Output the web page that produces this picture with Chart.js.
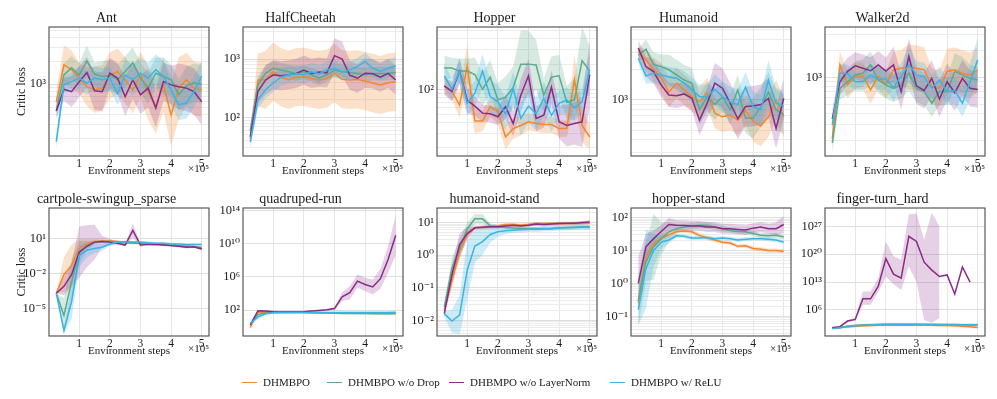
<!DOCTYPE html>
<html>
<head>
<meta charset="utf-8">
<script src="https://cdn.jsdelivr.net/npm/chart.js@4.4.1/dist/chart.umd.min.js"></script>
<style>
  body { margin: 0; background: #fff; width: 997px; height: 399px; position: relative; overflow: hidden; font-family: "Liberation Serif", "DejaVu Serif", serif; }
  canvas { position: absolute; }
  .leg { position: absolute; top: 374px; height: 16px; line-height: 16px; font-size: 11px; color: #1a1a1a; white-space: nowrap; }
  .leg i { display: inline-block; width: 15px; height: 1.5px; vertical-align: middle; margin-right: 6px; position: relative; top: -1px; }
</style>
</head>
<body>
<script>
// x positions, in units of 1e5 environment steps
const steps = [0.25, 0.5, 0.75, 1, 1.25, 1.5, 1.75, 2, 2.25, 2.5, 2.75, 3, 3.25, 3.5, 3.75, 4, 4.25, 4.5, 4.75, 5];
const xTicks = [1, 2, 3, 4, 5];
const seriesNames = ['DHMBPO', 'DHMBPO w/o Drop', 'DHBMPO w/o LayerNorm', 'DHMBPO w/ ReLU'];

// series order in every *Mean / *Spread: DHMBPO, w/o Drop, w/o LayerNorm, w/ ReLU
// spread = half width of the shaded band, in decades

// ---- Ant ----
const antMean = [
  [590, 1790, 1540, 1200, 930, 850, 890, 1300, 1460, 1130, 840, 1320, 780, 510, 980, 400, 890, 1140, 880, 850],
  [450, 1320, 1630, 1320, 2000, 1350, 1260, 1300, 1140, 1460, 1900, 1200, 890, 1390, 1260, 1140, 730, 950, 1050, 1000],
  [450, 860, 800, 1080, 1420, 820, 800, 1390, 1200, 690, 1140, 730, 890, 490, 1080, 980, 930, 890, 800, 590],
  [180, 980, 1080, 1200, 1030, 1200, 1140, 1200, 760, 1320, 1140, 1390, 1200, 1540, 1260, 840, 540, 570, 800, 1280],
];
const antSpread = [
  [0.15, 0.25, 0.25, 0.2, 0.25, 0.3, 0.3, 0.3, 0.3, 0.3, 0.3, 0.3, 0.35, 0.35, 0.35, 0.4, 0.4, 0.35, 0.35, 0.35],
  [0.1, 0.15, 0.15, 0.15, 0.2, 0.15, 0.2, 0.2, 0.2, 0.2, 0.2, 0.2, 0.2, 0.2, 0.25, 0.2, 0.2, 0.25, 0.25, 0.25],
  [0.1, 0.15, 0.2, 0.2, 0.2, 0.25, 0.25, 0.2, 0.2, 0.25, 0.25, 0.25, 0.25, 0.25, 0.25, 0.25, 0.3, 0.3, 0.3, 0.3],
  [0.1, 0.1, 0.12, 0.15, 0.15, 0.15, 0.15, 0.15, 0.15, 0.2, 0.2, 0.2, 0.2, 0.2, 0.2, 0.2, 0.2, 0.2, 0.2, 0.2],
];
const antRange = [117, 5530];
const antMajor = [1e3];
const antMinor = [200, 300, 400, 500, 600, 700, 800, 900, 2000, 3000, 4000, 5000];

// ---- HalfCheetah ----
const hcMean = [
  [43, 440, 440, 610, 490, 440, 490, 500, 465, 440, 465, 575, 450, 440, 450, 420, 390, 360, 395, 410],
  [60, 360, 570, 700, 650, 610, 560, 610, 540, 470, 540, 650, 610, 590, 570, 540, 570, 560, 570, 590],
  [47, 280, 440, 540, 520, 540, 570, 650, 570, 600, 580, 1150, 1000, 530, 470, 575, 560, 490, 570, 440],
  [38, 200, 300, 390, 490, 540, 560, 540, 610, 560, 650, 700, 610, 650, 750, 910, 700, 610, 700, 770],
];
const hcSpread = [
  [0.15, 0.45, 0.5, 0.5, 0.5, 0.5, 0.5, 0.5, 0.5, 0.5, 0.5, 0.5, 0.5, 0.5, 0.5, 0.5, 0.5, 0.5, 0.5, 0.5],
  [0.1, 0.15, 0.15, 0.12, 0.12, 0.12, 0.12, 0.12, 0.12, 0.12, 0.12, 0.12, 0.12, 0.12, 0.12, 0.12, 0.12, 0.12, 0.12, 0.12],
  [0.1, 0.2, 0.25, 0.25, 0.25, 0.25, 0.25, 0.25, 0.25, 0.25, 0.25, 0.3, 0.3, 0.25, 0.25, 0.25, 0.25, 0.25, 0.25, 0.25],
  [0.1, 0.15, 0.15, 0.15, 0.15, 0.15, 0.15, 0.15, 0.15, 0.15, 0.15, 0.15, 0.15, 0.15, 0.15, 0.15, 0.15, 0.15, 0.15, 0.15],
];
const hcRange = [21.8, 3565];
const hcMajor = [1e2, 1e3];
const hcMinor = [30, 40, 50, 60, 70, 80, 90, 200, 300, 400, 500, 600, 700, 800, 900, 2000, 3000];

// ---- Hopper ----
const hopMean = [
  [110, 95, 65, 190, 42, 42, 62, 55, 27, 34, 37, 41, 39, 38, 38, 34, 34, 130, 37, 27],
  [180, 180, 165, 165, 150, 100, 140, 75, 80, 105, 200, 200, 195, 85, 140, 145, 70, 75, 220, 165],
  [110, 94, 165, 74, 63, 52, 51, 47, 62, 39, 85, 145, 45, 49, 106, 41, 37, 39, 41, 150],
  [145, 100, 165, 68, 90, 165, 82, 71, 51, 103, 45, 63, 51, 78, 49, 68, 75, 60, 71, 170],
];
const hopSpread = [
  [0.1, 0.1, 0.15, 0.25, 0.15, 0.12, 0.12, 0.15, 0.15, 0.12, 0.12, 0.1, 0.1, 0.1, 0.1, 0.1, 0.1, 0.3, 0.2, 0.15],
  [0.15, 0.12, 0.15, 0.15, 0.2, 0.2, 0.2, 0.2, 0.25, 0.25, 0.4, 0.4, 0.3, 0.2, 0.25, 0.25, 0.2, 0.25, 0.4, 0.3],
  [0.1, 0.12, 0.15, 0.15, 0.12, 0.1, 0.1, 0.1, 0.15, 0.15, 0.2, 0.2, 0.15, 0.15, 0.2, 0.2, 0.25, 0.25, 0.3, 0.4],
  [0.15, 0.12, 0.15, 0.15, 0.15, 0.2, 0.2, 0.2, 0.2, 0.2, 0.2, 0.2, 0.2, 0.2, 0.2, 0.15, 0.15, 0.15, 0.15, 0.2],
];
const hopRange = [16, 555];
const hopMajor = [1e2];
const hopMinor = [20, 30, 40, 50, 60, 70, 80, 90, 200, 300, 400, 500];

// ---- Humanoid ----
const humMean = [
  [3040, 2500, 2000, 1650, 1200, 1470, 1260, 1080, 960, 1180, 740, 680, 710, 630, 790, 610, 550, 680, 1000, 680],
  [2800, 3200, 2250, 2150, 2000, 1780, 1580, 1470, 800, 1080, 900, 1080, 800, 1260, 660, 660, 850, 1200, 800, 720],
  [3300, 2150, 1920, 1410, 1120, 1100, 1150, 1040, 630, 930, 1470, 1310, 930, 650, 860, 870, 900, 1040, 520, 1040],
  [2600, 1740, 1850, 1780, 1690, 1650, 1470, 1260, 1080, 1080, 1280, 1080, 960, 900, 1340, 860, 800, 1580, 930, 870],
];
const humSpread = [
  [0.05, 0.1, 0.12, 0.15, 0.15, 0.15, 0.15, 0.15, 0.15, 0.15, 0.15, 0.15, 0.15, 0.15, 0.15, 0.2, 0.2, 0.2, 0.2, 0.2],
  [0.05, 0.1, 0.12, 0.12, 0.15, 0.15, 0.15, 0.15, 0.15, 0.15, 0.15, 0.15, 0.15, 0.15, 0.15, 0.2, 0.2, 0.2, 0.2, 0.2],
  [0.08, 0.1, 0.12, 0.12, 0.12, 0.12, 0.12, 0.12, 0.15, 0.15, 0.2, 0.2, 0.2, 0.2, 0.2, 0.2, 0.2, 0.2, 0.2, 0.2],
  [0.05, 0.08, 0.1, 0.1, 0.1, 0.1, 0.12, 0.12, 0.12, 0.12, 0.15, 0.15, 0.15, 0.15, 0.15, 0.15, 0.15, 0.2, 0.15, 0.15],
];
const humRange = [277, 5330];
const humMajor = [1e3];
const humMinor = [300, 400, 500, 600, 700, 800, 900, 2000, 3000, 4000, 5000];

// ---- Walker2d ----
const walkMean = [
  [210, 1380, 830, 1040, 1040, 730, 1040, 830, 1220, 1270, 1310, 1270, 1220, 800, 760, 1170, 1220, 1120, 1070, 1220],
  [190, 760, 900, 1070, 1120, 1380, 940, 830, 760, 830, 1120, 760, 700, 520, 700, 700, 1170, 1070, 980, 940],
  [350, 900, 1170, 1350, 1270, 1190, 1380, 1180, 1380, 700, 1710, 810, 720, 980, 580, 900, 680, 980, 760, 740],
  [300, 1120, 1100, 900, 900, 1070, 960, 960, 780, 1030, 1380, 1070, 1030, 760, 940, 700, 720, 520, 900, 1570],
];
const walkSpread = [
  [0.1, 0.15, 0.15, 0.15, 0.15, 0.15, 0.15, 0.15, 0.2, 0.2, 0.25, 0.25, 0.25, 0.2, 0.2, 0.25, 0.25, 0.25, 0.25, 0.25],
  [0.12, 0.12, 0.15, 0.15, 0.15, 0.15, 0.15, 0.15, 0.15, 0.15, 0.2, 0.15, 0.15, 0.15, 0.15, 0.15, 0.2, 0.2, 0.15, 0.15],
  [0.1, 0.15, 0.15, 0.15, 0.15, 0.15, 0.15, 0.15, 0.2, 0.2, 0.2, 0.2, 0.2, 0.2, 0.2, 0.2, 0.2, 0.2, 0.2, 0.2],
  [0.08, 0.1, 0.1, 0.1, 0.1, 0.12, 0.12, 0.12, 0.15, 0.15, 0.2, 0.15, 0.15, 0.15, 0.15, 0.15, 0.15, 0.15, 0.2, 0.25],
];
const walkRange = [136, 3620];
const walkMajor = [1e3];
const walkMinor = [200, 300, 400, 500, 600, 700, 800, 900, 2000, 3000];

// ---- cartpole-swingup_sparse ----
const cartMean = [
  [2e-4, 8e-3, 0.05, 1.4, 3.5, 5.6, 6.3, 6.3, 5.6, 5, 4.5, 4, 3.5, 3.5, 3.2, 2.8, 2.5, 2.2, 2, 1.4],
  [2e-4, 2.5e-6, 2e-3, 0.63, 2.5, 5, 5.6, 5.6, 5, 4.5, 4, 4, 3.5, 3.2, 3.2, 2.8, 2.5, 2.2, 2, 1.8],
  [2e-4, 8e-4, 8e-3, 0.7, 2.2, 5, 5.6, 5, 4, 2.8, 50, 2.8, 3.2, 3.2, 2.8, 2.5, 2.2, 1.8, 2, 1.26],
  [2e-4, 1.3e-7, 4e-5, 0.35, 1, 1.4, 1.8, 3.5, 5, 5, 5, 5, 4.5, 4, 4, 3.5, 3.5, 3.2, 3.2, 3.2],
];
const cartSpread = [
  [0, 1.5, 1.8, 0.8, 0.4, 0.2, 0.1, 0.1, 0.1, 0.1, 0.1, 0.1, 0.1, 0.1, 0.1, 0.1, 0.1, 0.1, 0.1, 0.1],
  [0, 1.5, 2, 1, 0.4, 0.15, 0.1, 0.1, 0.1, 0.1, 0.1, 0.1, 0.1, 0.1, 0.1, 0.1, 0.1, 0.1, 0.1, 0.1],
  [0, 0.8, 1, 2.2, 1.8, 1.5, 0.5, 0.3, 0.15, 0.1, 0.6, 0.15, 0.1, 0.1, 0.1, 0.1, 0.1, 0.1, 0.1, 0.1],
  [0, 0.3, 1.5, 1, 0.6, 0.4, 0.3, 0.15, 0.1, 0.1, 0.1, 0.1, 0.1, 0.1, 0.1, 0.1, 0.1, 0.1, 0.1, 0.1],
];
const cartRange = [4.3e-8, 4270];
const cartMajor = [1e-5, 1e-2, 1e1];
const cartMinor = [];

// ---- quadruped-run ----
const quadMean = [
  [0.8, 60, 55, 55, 55, 55, 55, 55, 50, 50, 48, 45, 45, 42, 42, 42, 45, 45, 45, 48],
  [2, 30, 45, 50, 50, 50, 50, 50, 48, 45, 45, 42, 40, 40, 38, 38, 36, 35, 35, 35],
  [1.6, 80, 75, 65, 60, 60, 60, 65, 75, 90, 110, 150, 4e3, 1.2e4, 3e5, 1.2e5, 6e4, 6e5, 1.2e8, 1e11],
  [2.5, 15, 35, 48, 50, 52, 52, 52, 50, 50, 50, 50, 50, 50, 50, 50, 50, 50, 50, 55],
];
const quadSpread = [
  [0.2, 0.1, 0.08, 0.08, 0.08, 0.08, 0.08, 0.08, 0.08, 0.08, 0.08, 0.08, 0.08, 0.08, 0.08, 0.08, 0.08, 0.08, 0.08, 0.08],
  [0.2, 0.15, 0.1, 0.1, 0.1, 0.1, 0.1, 0.1, 0.1, 0.1, 0.1, 0.1, 0.1, 0.1, 0.1, 0.1, 0.1, 0.1, 0.1, 0.1],
  [0.2, 0.1, 0.1, 0.1, 0.1, 0.1, 0.1, 0.1, 0.1, 0.1, 0.1, 0.2, 0.5, 0.8, 0.8, 0.8, 0.9, 1.2, 1.6, 2.4],
  [0.2, 0.3, 0.15, 0.1, 0.1, 0.1, 0.1, 0.1, 0.1, 0.1, 0.1, 0.1, 0.1, 0.1, 0.1, 0.1, 0.1, 0.1, 0.1, 0.1],
];
const quadRange = [0.076, 1.9e14];
const quadMajor = [1e2, 1e6, 1e10, 1e14];
const quadMinor = [];

// ---- humanoid-stand ----
const hstMean = [
  [0.021, 0.17, 1.3, 4.3, 6.9, 7, 7.4, 7.9, 8.7, 8.7, 8.3, 8.7, 9.3, 9.3, 9.3, 9.5, 9.3, 9.5, 9.5, 9.5],
  [0.026, 0.4, 1.6, 6.5, 13, 13, 8, 7.4, 7, 6.8, 6.6, 6.5, 6.5, 6.5, 6.6, 6.8, 7, 7, 7.2, 7.4],
  [0.016, 0.25, 2.1, 4.6, 6.9, 7.2, 7.4, 7.4, 7.9, 8.3, 7.9, 8.3, 9, 8.7, 9, 9.3, 9.5, 9.5, 10, 10.5],
  [0.016, 0.0095, 0.0145, 0.35, 1.9, 2.6, 4.3, 5.2, 5.6, 5.8, 6, 6.2, 6.2, 6.5, 6.5, 6.9, 6.9, 7.2, 7.4, 7],
];
const hstSpread = [
  [0.1, 0.25, 0.25, 0.1, 0.05, 0.05, 0.05, 0.05, 0.05, 0.05, 0.05, 0.05, 0.05, 0.05, 0.05, 0.05, 0.05, 0.05, 0.05, 0.05],
  [0.1, 0.3, 0.3, 0.2, 0.15, 0.15, 0.08, 0.05, 0.05, 0.05, 0.05, 0.05, 0.05, 0.05, 0.05, 0.05, 0.05, 0.05, 0.05, 0.05],
  [0.1, 0.3, 0.35, 0.2, 0.05, 0.05, 0.05, 0.05, 0.05, 0.05, 0.05, 0.05, 0.05, 0.05, 0.05, 0.05, 0.05, 0.05, 0.05, 0.05],
  [0.1, 0.35, 0.6, 0.9, 0.5, 0.4, 0.25, 0.15, 0.1, 0.08, 0.08, 0.08, 0.08, 0.08, 0.08, 0.08, 0.08, 0.08, 0.08, 0.08],
];
const hstRange = [3.3e-3, 28];
const hstMajor = [1e-2, 1e-1, 1, 10];
const hstMinor = [0.004, 0.005, 0.006, 0.007, 0.008, 0.009, 0.02, 0.03, 0.04, 0.05, 0.06, 0.07, 0.08, 0.09,
  0.2, 0.3, 0.4, 0.5, 0.6, 0.7, 0.8, 0.9, 2, 3, 4, 5, 6, 7, 8, 9, 20];

// ---- hopper-stand ----
const hsMean = [
  [0.26, 6.3, 16, 24, 30, 38, 39, 37, 29, 24, 21, 18, 17, 13.4, 14, 11.5, 11, 10, 10, 9.5],
  [0.3, 4.5, 13, 23, 37, 46, 52, 56, 59, 59, 52, 46, 41, 38, 37, 33, 29, 28, 29, 26],
  [1, 13, 23, 38, 62, 59, 58, 56, 56, 52, 52, 46, 46, 44, 42, 48, 52, 46, 46, 62],
  [0.16, 2.8, 10, 18, 21, 28, 27, 24, 24, 25, 23, 24, 23, 21, 22, 23, 23, 22, 21, 18],
];
const hsSpread = [
  [0.3, 0.3, 0.15, 0.1, 0.08, 0.06, 0.06, 0.06, 0.06, 0.06, 0.06, 0.06, 0.06, 0.06, 0.06, 0.06, 0.06, 0.06, 0.06, 0.06],
  [0.8, 0.6, 1, 0.5, 0.3, 0.15, 0.1, 0.1, 0.1, 0.1, 0.1, 0.1, 0.08, 0.08, 0.08, 0.08, 0.08, 0.08, 0.08, 0.08],
  [0.8, 0.4, 0.25, 0.2, 0.2, 0.15, 0.15, 0.15, 0.15, 0.15, 0.15, 0.15, 0.15, 0.15, 0.15, 0.15, 0.15, 0.15, 0.2, 0.25],
  [0.5, 1.2, 0.5, 0.2, 0.1, 0.06, 0.06, 0.06, 0.06, 0.06, 0.06, 0.06, 0.06, 0.06, 0.06, 0.06, 0.06, 0.06, 0.06, 0.06],
];
const hsRange = [0.025, 197];
const hsMajor = [0.1, 1, 10, 100];
const hsMinor = [0.03, 0.04, 0.05, 0.06, 0.07, 0.08, 0.09, 0.2, 0.3, 0.4, 0.5, 0.6, 0.7, 0.8, 0.9,
  2, 3, 4, 5, 6, 7, 8, 9, 20, 30, 40, 50, 60, 70, 80, 90];

// ---- finger-turn_hard ----
const fingerMean = [
  [30, 40, 60, 80, 100, 120, 140, 150, 150, 150, 150, 150, 150, 140, 130, 120, 100, 80, 60, 40],
  [25, 40, 80, 120, 160, 200, 220, 250, 250, 250, 250, 240, 230, 220, 200, 200, 180, 170, 160, 160],
  [35, 63, 1.6e3, 4e3, 6e8, 6e8, 8e11, 8e18, 1e15, 1e14, 3e24, 1.6e23, 1e18, 1e16, 2.5e14, 6e14, 1e10, 6e16, 1e13, null],
  [20, 35, 70, 100, 140, 170, 200, 220, 220, 220, 230, 230, 230, 220, 220, 220, 210, 200, 190, 190],
];
const fingerSpread = [
  [0.3, 0.3, 0.3, 0.3, 0.3, 0.3, 0.3, 0.3, 0.3, 0.3, 0.3, 0.3, 0.3, 0.3, 0.3, 0.3, 0.3, 0.3, 0.3, 0.3],
  [0.3, 0.3, 0.3, 0.3, 0.3, 0.3, 0.3, 0.3, 0.3, 0.3, 0.3, 0.3, 0.3, 0.3, 0.3, 0.3, 0.3, 0.3, 0.3, 0.3],
  null,
  [0.3, 0.3, 0.3, 0.3, 0.3, 0.3, 0.3, 0.3, 0.3, 0.3, 0.3, 0.3, 0.3, 0.3, 0.3, 0.3, 0.3, 0.3, 0.3, 0.3],
];
// band of the LayerNorm ablation is lopsided here, so its bounds are read directly
const fingerPurpleLo = [20, 40, 8e2, 2e3, 2e7, 2e7, 3e10, 2.5e14, 3e12, 1e11, 1e17, 1e13, 3e3, 6e2, 1e4, null, null, null, null, null];
const fingerPurpleHi = [63, 100, 3e3, 1e4, 4e10, 4e10, 1e14, 1.6e23, 3e19, 4e18, 1e30, 1.6e30, 4e23, 2.5e30, 1e27, null, null, null, null, null];
const fingerRange = [0.28, 4e31];
const fingerMajor = [1e6, 1e13, 1e20, 1e27];
const fingerMinor = [];

// ---------------------------------------------------------------

const FONT = '"Liberation Serif", "DejaVu Serif", serif';
const lineColors = ['#f5862a', '#5aab8c', '#892b87', '#38b5e5'];
const bandColors = ['rgba(245,134,42,0.25)', 'rgba(90,171,140,0.25)', 'rgba(137,43,135,0.22)', 'rgba(56,181,229,0.25)'];
const legendLeft = [242, 327, 449, 610];

const YW = 45, TITLE_H = 19, XH = 22, PAD_R = 3;

const panels = [
  { title: 'Ant', mean: antMean, spread: antSpread, range: antRange, major: antMajor, minor: antMinor, box: [49, 27, 160, 129], ylabel: true },
  { title: 'HalfCheetah', mean: hcMean, spread: hcSpread, range: hcRange, major: hcMajor, minor: hcMinor, box: [243, 27, 160, 129] },
  { title: 'Hopper', mean: hopMean, spread: hopSpread, range: hopRange, major: hopMajor, minor: hopMinor, box: [437, 27, 160, 129] },
  { title: 'Humanoid', mean: humMean, spread: humSpread, range: humRange, major: humMajor, minor: humMinor, box: [631, 27, 160, 129] },
  { title: 'Walker2d', mean: walkMean, spread: walkSpread, range: walkRange, major: walkMajor, minor: walkMinor, box: [825, 27, 160, 129] },
  { title: 'cartpole-swingup_sparse', mean: cartMean, spread: cartSpread, range: cartRange, major: cartMajor, minor: cartMinor, box: [49, 208, 160, 128], ylabel: true },
  { title: 'quadruped-run', mean: quadMean, spread: quadSpread, range: quadRange, major: quadMajor, minor: quadMinor, box: [243, 208, 160, 128] },
  { title: 'humanoid-stand', mean: hstMean, spread: hstSpread, range: hstRange, major: hstMajor, minor: hstMinor, box: [437, 208, 160, 128] },
  { title: 'hopper-stand', mean: hsMean, spread: hsSpread, range: hsRange, major: hsMajor, minor: hsMinor, box: [631, 208, 160, 128] },
  { title: 'finger-turn_hard', mean: fingerMean, spread: fingerSpread, range: fingerRange, major: fingerMajor, minor: fingerMinor, box: [825, 208, 160, 128],
    bands: { 2: [fingerPurpleLo, fingerPurpleHi] } },
];

const SUP = { '-': '⁻', '0': '⁰', '1': '¹', '2': '²', '3': '³', '4': '⁴', '5': '⁵', '6': '⁶', '7': '⁷', '8': '⁸', '9': '⁹' };
function powLabel(v) {
  const e = String(Math.round(Math.log10(v)));
  return '10' + e.split('').map(c => SUP[c]).join('');
}

const framePlugin = {
  id: 'frame',
  afterDraw(chart) {
    const { ctx, chartArea: a } = chart;
    ctx.save();
    ctx.strokeStyle = '#4a4a4a';
    ctx.lineWidth = 1.1;
    ctx.strokeRect(a.left, a.top, a.right - a.left, a.bottom - a.top);
    ctx.fillStyle = '#1a1a1a';
    ctx.font = '11px ' + FONT;
    ctx.textAlign = 'right';
    ctx.textBaseline = 'middle';
    ctx.fillText('×10⁵', a.right, a.bottom + 13);
    ctx.restore();
  }
};

function pts(arr) {
  return steps.map((x, i) => ({ x, y: arr[i] }));
}

function makePanel(p) {
  const [bx, by, bw, bh] = p.box;
  const canvas = document.createElement('canvas');
  canvas.width = YW + bw + PAD_R;
  canvas.height = TITLE_H + bh + XH;
  canvas.style.left = (bx - YW) + 'px';
  canvas.style.top = (by - TITLE_H) + 'px';
  document.body.appendChild(canvas);

  const datasets = [];
  p.mean.forEach((m, s) => {
    datasets.push({
      data: pts(m), borderColor: lineColors[s], borderWidth: 1.5, pointRadius: 0,
      fill: false, tension: 0, order: 3 - s,
    });
  });
  p.mean.forEach((m, s) => {
    let lo, hi;
    if (p.bands && p.bands[s]) {
      [lo, hi] = p.bands[s];
    } else {
      const sp = p.spread[s];
      lo = m.map((v, i) => v == null ? null : v / Math.pow(10, sp[i]));
      hi = m.map((v, i) => v == null ? null : v * Math.pow(10, sp[i]));
    }
    datasets.push({ data: pts(lo), borderWidth: 0, pointRadius: 0, fill: false, order: 13 - s });
    datasets.push({ data: pts(hi), borderWidth: 0, pointRadius: 0, fill: '-1', backgroundColor: bandColors[s], order: 13 - s });
  });

  const yTicks = p.major.map(v => ({ value: v, major: true }))
    .concat(p.minor.map(v => ({ value: v, major: false })));

  new Chart(canvas, {
    type: 'line',
    data: { datasets },
    plugins: [framePlugin],
    options: {
      responsive: false,
      animation: false,
      events: [],
      layout: { padding: { left: 0, right: PAD_R, top: 0, bottom: 0 } },
      plugins: {
        legend: { display: false },
        tooltip: { enabled: false },
        title: {
          display: true, text: p.title, color: '#1a1a1a',
          font: { family: FONT, size: 14, weight: 'normal', lineHeight: 1.2 },
          padding: { top: 2, bottom: 0.2 },
        },
      },
      scales: {
        x: {
          type: 'linear', min: 0.0125, max: 5.2375, bounds: 'data',
          afterBuildTicks: s => { s.ticks = xTicks.map(v => ({ value: v })); },
          afterFit: s => { s.height = XH; },
          ticks: { autoSkip: false, maxRotation: 0, padding: 1, color: '#1a1a1a', font: { family: FONT, size: 11.5 }, callback: v => String(v) },
          grid: { color: '#e6e6e6', lineWidth: 1, drawTicks: false },
          border: { display: false },
          title: {
            display: true, text: 'Environment steps', color: '#1a1a1a',
            font: { family: FONT, size: 11, lineHeight: 1.2 }, padding: { top: 0, bottom: 0 },
          },
        },
        y: {
          type: 'logarithmic', min: p.range[0], max: p.range[1], bounds: 'data',
          afterBuildTicks: s => { s.ticks = yTicks.map(t => ({ ...t })); },
          afterFit: s => { s.width = YW; },
          ticks: {
            autoSkip: false, padding: 3, color: '#1a1a1a', font: { family: FONT, size: 12.5 },
            callback: (v, i, ticks) => ticks[i].major ? powLabel(v) : '',
          },
          grid: { color: c => (c.tick && c.tick.major) ? '#dedede' : '#ececec', lineWidth: 1, drawTicks: false },
          border: { display: false },
          title: {
            display: !!p.ylabel, text: 'Critic loss', color: '#1a1a1a',
            font: { family: FONT, size: 12, lineHeight: 1.2 }, padding: { top: 11, bottom: 0 },
          },
        },
      },
    },
  });
}

panels.forEach(makePanel);

seriesNames.forEach((name, s) => {
  const d = document.createElement('div');
  d.className = 'leg';
  d.style.left = legendLeft[s] + 'px';
  d.innerHTML = `<i style="background:${lineColors[s]}"></i>${name}`;
  document.body.appendChild(d);
});
</script>
</body>
</html>
